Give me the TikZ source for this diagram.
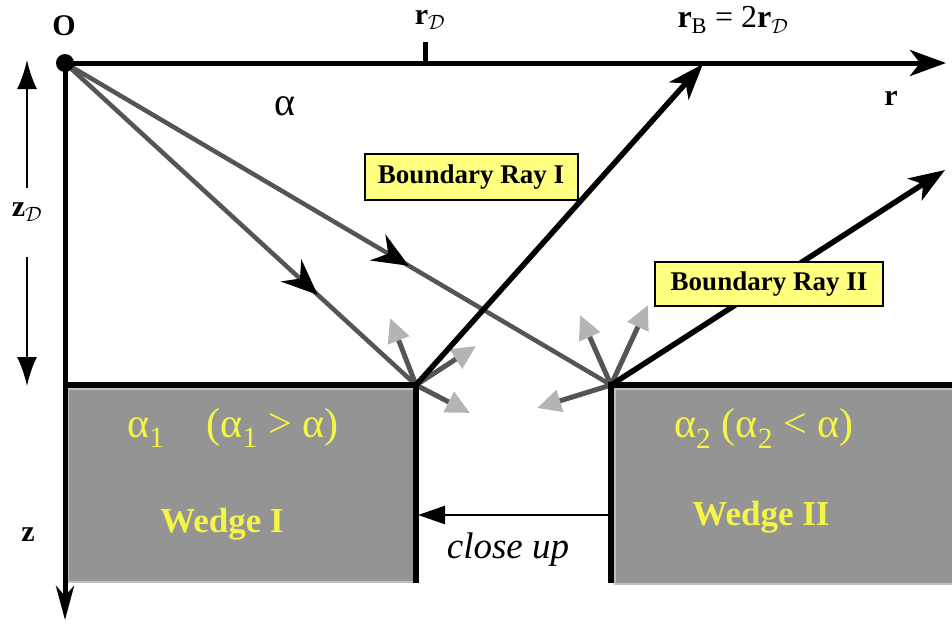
\documentclass[tikz,border=0pt]{standalone}
\usepackage{fontspec}
\setmainfont{Liberation Serif}
\usetikzlibrary{arrows.meta,positioning,decorations.markings}
\definecolor{wedgegray}{HTML}{949494}
\definecolor{raygray}{HTML}{555555}
\definecolor{tipgray}{HTML}{B4B4B4}
\definecolor{boxyellow}{HTML}{FFFF80}
\definecolor{textyellow}{HTML}{F5F545}

\begin{document}
\begin{tikzpicture}[
    x=1pt, y=-1pt,
    axis/.style={line width=5pt, -{Stealth[length=36pt,width=26pt,inset=10pt]}},
    ray/.style={line width=4.5pt, draw=raygray},
    midarrow/.style={postaction={decorate, decoration={markings,
        mark=at position #1 with {\arrow[black]{Stealth[length=36pt,width=30pt,inset=12pt]}}}}},
    bray/.style={line width=5.5pt, -{Stealth[length=36pt,width=26pt,inset=10pt]}},
    scat/.style={line width=5pt, draw=raygray, -{Triangle[length=24pt,width=22pt,color=tipgray]}},
    wedge/.style={rectangle, fill=wedgegray, draw=gray!50, line width=1.5pt, anchor=north west},
    edge/.style={line width=5.5pt},
    raybox/.style={rectangle, draw, line width=2pt, fill=boxyellow, font=\fontsize{27}{30}\selectfont\bfseries},
    wedgetext/.style={text=textyellow, font=\fontsize{42}{46}\selectfont},
    wedgename/.style={text=textyellow, font=\fontsize{35}{40}\selectfont\bfseries},
    axlabel/.style={font=\fontsize{30}{34}\selectfont\bfseries}
]
    \useasboundingbox (0,0) rectangle (952,627);

    % Points
    \coordinate (O) at (65,63);
    \coordinate (A) at (416,385);
    \coordinate (B) at (611,385);
    \coordinate (rend) at (946,63);
    \coordinate (zend) at (65,620);
    \coordinate (rB) at (703,64);
    \coordinate (rayIIend) at (945,170);

    % Wedges
    \node[wedge, minimum width=346pt, minimum height=193pt] (wedgeI) at (67,388) {};
    \node[wedge, minimum width=340pt, minimum height=195pt] (wedgeII) at (614,388) {};
    \node[wedgetext] (alphaI) at (233,428) {α\textsubscript{1}\quad(α\textsubscript{1} > α)};
    \node[wedgename] (wedgeIlabel) at (222,524) {Wedge I};
    \node[wedgetext] (alphaII) at (764,428) {α\textsubscript{2} (α\textsubscript{2} < α)};
    \node[wedgename] (wedgeIIlabel) at (761,517) {Wedge II};

    % Scattered rays
    \coordinate (sA1) at (390,318);
    \coordinate (sA2) at (476,346);
    \coordinate (sA3) at (470,413);
    \coordinate (sB1) at (580,315);
    \coordinate (sB2) at (648,305);
    \coordinate (sB3) at (537,408);
    \foreach \s in {sA1,sA2,sA3} \draw[scat] (A) -- (\s);
    \foreach \s in {sB1,sB2,sB3} \draw[scat] (B) -- (\s);

    % Incident rays
    \draw[ray, midarrow=0.72] (O) -- (A);
    \draw[ray, midarrow=0.63] (O) -- (B);

    % Boundary rays
    \draw[bray] (A) -- (rB);
    \draw[bray] (B) -- (rayIIend);
    \node[raybox, minimum width=213pt, minimum height=46pt] (boxI) at (471,177) {Boundary Ray I};
    \node[raybox, minimum width=228pt, minimum height=44pt] (boxII) at (769,284) {Boundary Ray II};

    % Wedge edges
    \draw[edge] (O |- A) -- (A) -- (416,583);
    \draw[edge] (952,385) -- (B) -- (611,583);

    % Axes
    \draw[axis] (O) -- (rend);
    \draw[axis, -{Stealth[length=34pt,width=18pt,inset=10pt]}] (O) -- (zend);
    \fill (O) circle (9pt);
    \draw[line width=5pt] (425,42) -- (425,63);

    % Labels
    \node[axlabel] (Olabel) at (64,26) {O};
    \node[axlabel] (rDlabel) at (430,20) {r$_{\mathcal{D}}$};
    \node[font=\fontsize{32}{36}\selectfont] (rBlabel) at (733,20) {\textbf{r}\textsubscript{B} = 2\textbf{r}$_{\mathcal{D}}$};
    \node[axlabel] (rlabel) at (891,98) {r};
    \node[font=\fontsize{40}{44}\selectfont] (alphalabel) at (285,106) {α};
    \node[axlabel] (zDlabel) at (27,212) {z$_{\mathcal{D}}$};
    \node[axlabel] (zlabel) at (28,535) {z};

    % Depth arrows
    \coordinate (zDtop) at (27,188);
    \coordinate (zDbot) at (27,257);
    \draw[line width=2.5pt, -{Latex[length=29pt,width=20pt]}] (zDtop) -- (27,60);
    \draw[line width=2.5pt, -{Latex[length=29pt,width=20pt]}] (zDbot) -- (27,386);

    % Close up
    \coordinate (cuS) at (609,515);
    \coordinate (cuE) at (418,515);
    \draw[line width=2.5pt, -{Triangle[length=27pt,width=18pt]}] (cuS) -- (cuE);
    \node[font=\fontsize{37}{40}\selectfont\itshape] (closeup) at (508,550) {close up};
\end{tikzpicture}
\end{document}
